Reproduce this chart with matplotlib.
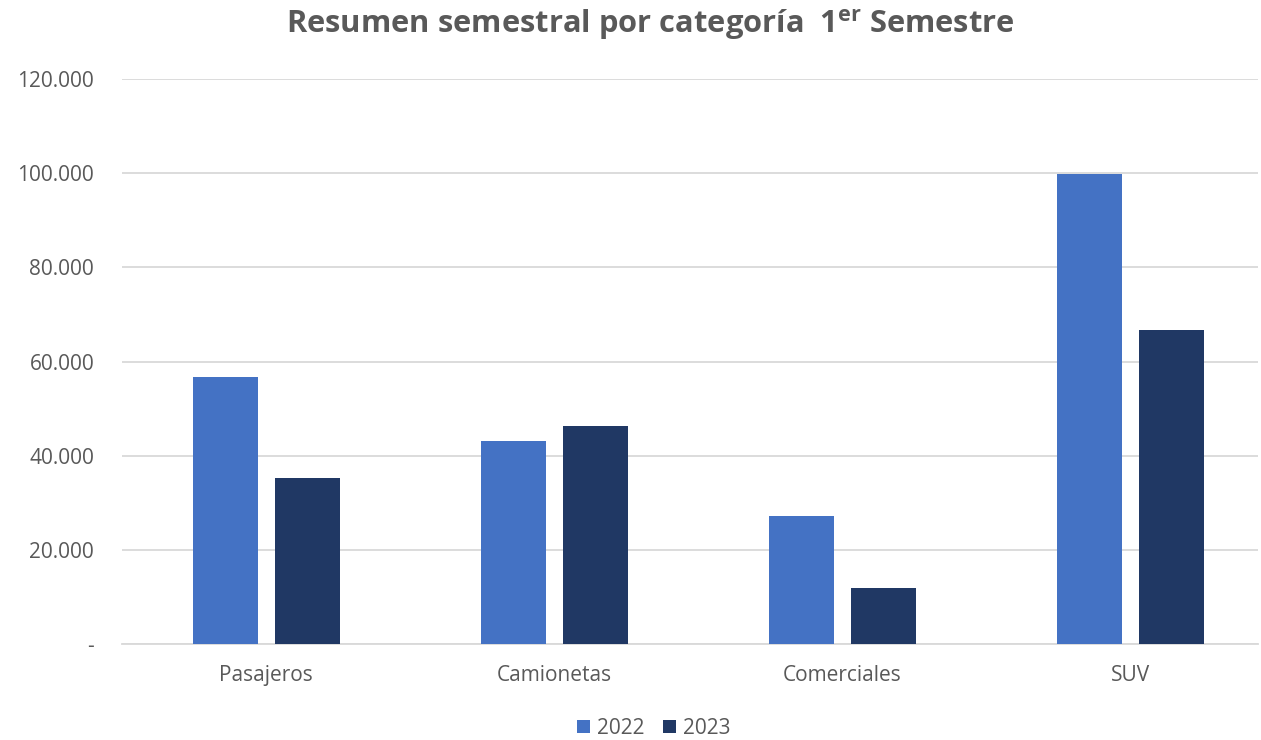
import matplotlib
matplotlib.use("Agg")
import matplotlib.pyplot as plt
from matplotlib.ticker import FuncFormatter
import numpy as np

categories = ["Pasajeros", "Camionetas", "Comerciales", "SUV"]
series_names = ["2022", "2023"]
values_2022 = [56700, 43100, 27200, 99900]
values_2023 = [35200, 46300, 12000, 66700]
yticks = [0, 20000, 40000, 60000, 80000, 100000, 120000]

colors = ["#4472C4", "#203864"]
text_color = "#595959"
grid_color = "#D9D9D9"

plt.rcParams["font.family"] = ["Open Sans", "DejaVu Sans"]
plt.rcParams["mathtext.fontset"] = "custom"
plt.rcParams["mathtext.rm"] = "Open Sans:bold"
plt.rcParams["mathtext.bf"] = "Open Sans:bold"

fig = plt.figure(figsize=(12.61, 7.40), dpi=100)
ax = fig.add_axes([122 / 1261, 1 - 644 / 740, (1258 - 122) / 1261, (644 - 79) / 740])

x = np.arange(len(categories))
w = 0.2257
off = 0.142
b1 = ax.bar(x - off, values_2022, width=w, color=colors[0], label=series_names[0], zorder=3)
b2 = ax.bar(x + off, values_2023, width=w, color=colors[1], label=series_names[1], zorder=3)

ax.set_xlim(-0.5, len(categories) - 0.5 - 17 / 288.3)
ax.set_ylim(0, 120000)
ax.set_yticks(yticks)


def fmt(v, pos):
    if v == 0:
        return "-"
    return f"{int(v):,}".replace(",", ".")


ax.yaxis.set_major_formatter(FuncFormatter(fmt))
ax.set_xticks(x)
ax.set_xticklabels(categories)

ax.grid(axis="y", color=grid_color, linewidth=1.3, zorder=0)
ax.set_axisbelow(True)
for s in ["top", "right", "left"]:
    ax.spines[s].set_visible(False)
ax.spines["bottom"].set_color(grid_color)
ax.spines["bottom"].set_linewidth(1.3)

ax.tick_params(axis="both", length=0, colors=text_color, labelsize=15)
ax.tick_params(axis="y", pad=20)
ax.tick_params(axis="x", pad=15)

fig.text(650 / 1261, 1 - 25 / 740, r"Resumen semestral por categoría  1$^{\mathrm{er}}$ Semestre",
         ha="center", va="center", fontsize=22.2, fontweight="bold", color=text_color)

leg = fig.legend(handles=[b1, b2], labels=series_names, loc="center", bbox_to_anchor=(654 / 1261, 1 - 728.5 / 740),
                 ncol=2, frameon=False, fontsize=15, handlelength=0.62, handleheight=0.62,
                 handletextpad=0.34, columnspacing=0.9, labelcolor=text_color)

fig.savefig("out.png", dpi=100, facecolor="white")
